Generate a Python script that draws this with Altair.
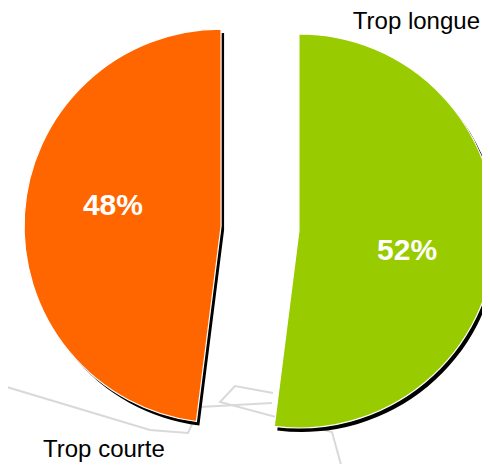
import altair as alt
import pandas as pd

# --- data ---
categories = ["Trop longue", "Trop courte"]
values = [52, 48]
colors = ["#99CC00", "#FF6600"]
order = [0, 1]

# faint grey decorative lines in the background (page pixels)
bg_path = ["a", "a", "a", "a", "a", "b", "b", "b", "b", "b"]
bg_step = [0, 1, 2, 3, 4, 0, 1, 2, 3, 4]
bg_x = [-8, 142, 180, 192, 264, 265, 227, 212, 324, 335]
bg_y = [377, 422, 425, 399, 395, 385, 378, 394, 424, 464]

W, H = 474, 456
CX, CY = 252, 220.5   # pie centre
EXPLODE = 39
R = 197
LABEL_R = 110

df = pd.DataFrame({"cat": categories, "value": values, "color": colors, "idx": order})
lines = pd.DataFrame({"path": bg_path, "step": bg_step, "x": bg_x, "y": bg_y})

base = (
    alt.Chart(df)
    .transform_joinaggregate(total="sum(value)")
    .transform_window(cum="sum(value)", sort=[alt.SortField("idx")], frame=[None, 0])
    .transform_calculate(t1="datum.cum / datum.total * 2 * PI")
    .transform_calculate(t0="(datum.cum - datum.value) / datum.total * 2 * PI")
    .transform_calculate(mid="(datum.t0 + datum.t1) / 2")
    .transform_calculate(cx=f"{CX} + {EXPLODE} * sin(datum.mid)")
    .transform_calculate(cy=f"{CY} - {EXPLODE} * cos(datum.mid)")
    .transform_calculate(sx="datum.cx + 3")
    .transform_calculate(sy="datum.cy + 4")
    .transform_calculate(lx=f"datum.cx + {LABEL_R} * sin(datum.mid + 0.12)")
    .transform_calculate(ly=f"datum.cy - {LABEL_R} * cos(datum.mid + 0.12)")
    .transform_calculate(pct="format(datum.value / datum.total, '.0%')")
)

bg = alt.Chart(lines).mark_line(color="#D9D9D9", strokeWidth=2).encode(
    x=alt.X("x:Q", scale=None),
    y=alt.Y("y:Q", scale=None),
    detail="path:N",
    order="step:Q",
)

shadow = base.mark_arc(radius=R, color="black").encode(
    theta=alt.Theta("t0:Q", scale=None, stack=None),
    theta2="t1:Q",
    x=alt.X("sx:Q", scale=None),
    y=alt.Y("sy:Q", scale=None),
)

slices = base.mark_arc(radius=R, stroke="white", strokeWidth=1.2).encode(
    theta=alt.Theta("t0:Q", scale=None, stack=None),
    theta2="t1:Q",
    x=alt.X("cx:Q", scale=None),
    y=alt.Y("cy:Q", scale=None),
    fill=alt.Fill("color:N", scale=None),
)

pct_labels = base.mark_text(
    font="Liberation Sans", fontSize=30, fontWeight="bold", color="white",
    align="center", baseline="middle",
).encode(
    x=alt.X("lx:Q", scale=None),
    y=alt.Y("ly:Q", scale=None),
    text="pct:N",
)

cat_long = alt.Chart(df).transform_filter(alt.datum.cat == categories[0]).mark_text(
    font="Liberation Sans", fontSize=24, color="black", align="right", baseline="alphabetic"
).encode(x=alt.value(472), y=alt.value(21), text="cat:N")

cat_short = alt.Chart(df).transform_filter(alt.datum.cat == categories[1]).mark_text(
    font="Liberation Sans", fontSize=24, color="black", align="left", baseline="alphabetic"
).encode(x=alt.value(35), y=alt.value(449), text="cat:N")

chart = (
    alt.layer(bg, shadow, slices, pct_labels, cat_long, cat_short)
    .properties(width=W, height=H, padding=0, autosize=alt.AutoSizeParams(type="none"))
    .configure_view(stroke=None)
)

chart.save("out.html", embed_options={"renderer": "svg", "actions": False})
